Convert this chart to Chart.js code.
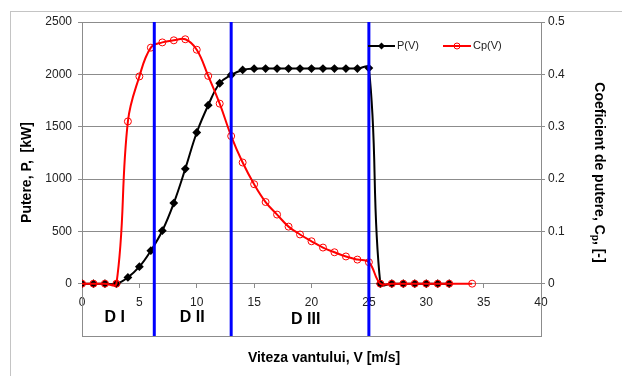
<!DOCTYPE html>
<html>
<head>
<meta charset="utf-8">
<script src="https://cdn.jsdelivr.net/npm/chart.js@4.4.0/dist/chart.umd.min.js"></script>
<style>
  html, body { margin: 0; padding: 0; background: #fff; }
  #chart { display: block; }
</style>
</head>
<body>
<canvas id="chart" width="622" height="376"></canvas>
<script>
// wind speed [m/s] and power P(V) [kW]
const windSpeedP = [0, 1, 2, 3, 4, 5, 6, 7, 8, 9, 10, 11, 12, 13, 14, 15, 16, 17, 18, 19, 20, 21, 22, 23, 24, 25, 26, 27, 28, 29, 30, 31, 32];
const power = [0, 0, 0, 0, 60, 162, 315, 506, 770, 1097, 1444, 1705, 1915, 1994, 2042, 2054, 2055, 2055, 2055, 2055, 2055, 2055, 2055, 2055, 2055, 2060, 0, 0, 0, 0, 0, 0, 0];

// power coefficient Cp(V)
const windSpeedCp = [0, 1, 2, 3, 4, 5, 6, 7, 8, 9, 10, 11, 12, 13, 14, 15, 16, 17, 18, 19, 20, 21, 22, 23, 24, 25, 26, 27, 28, 29, 30, 31, 32, 34];
const cp = [0, 0, 0, 0, 0.310, 0.396, 0.451, 0.461, 0.465, 0.467, 0.447, 0.397, 0.344, 0.282, 0.2315, 0.190, 0.156, 0.132, 0.109, 0.094, 0.081, 0.069, 0.060, 0.052, 0.046, 0.041, 0, 0, 0, 0, 0, 0, 0, 0];

// operating zones
const zoneLimits = [6.3, 13, 25];
const zoneLabels = ["D I", "D II", "D III"];
const zoneLabelX = [2.85, 9.6, 19.5];
const zoneLabelY = [-320, -320, -345];

const FONT = "'Liberation Sans', Arial, sans-serif";
const GRID = "#8c8c8c";
Chart.defaults.font.family = FONT;
Chart.defaults.color = "#222";

const toPoints = (xs, ys) => xs.map((x, i) => ({ x: x, y: ys[i] }));

const datasets = zoneLimits.map(v => ({
  label: "limit",
  data: [{ x: v, y: -500 }, { x: v, y: 2500 }],
  borderColor: "#0000ff",
  borderWidth: 3,
  pointRadius: 0,
  tension: 0,
  yAxisID: "y"
}));

datasets.push({
  label: "Cp(V)",
  data: toPoints(windSpeedCp, cp),
  borderColor: "#ff0000",
  borderWidth: 2,
  pointStyle: "circle",
  pointRadius: 3.5,
  pointBorderWidth: 1,
  pointBorderColor: "#ff0000",
  pointBackgroundColor: "rgba(0,0,0,0)",
  tension: 0.4,
  yAxisID: "y1"
});

datasets.push({
  label: "P(V)",
  data: toPoints(windSpeedP, power),
  borderColor: "#000",
  borderWidth: 2,
  pointStyle: "rectRot",
  pointRadius: 3,
  pointBorderColor: "#000",
  pointBackgroundColor: "#000",
  tension: 0.4,
  yAxisID: "y"
});

function drawLegend(ctx) {
  ctx.save();
  ctx.font = "11px " + FONT;
  ctx.textBaseline = "middle";
  const y = 46;
  // P(V)
  ctx.strokeStyle = "#000";
  ctx.lineWidth = 2;
  ctx.beginPath(); ctx.moveTo(368, y); ctx.lineTo(395, y); ctx.stroke();
  ctx.fillStyle = "#000";
  ctx.beginPath();
  ctx.moveTo(381.5, y - 3.5); ctx.lineTo(385, y); ctx.lineTo(381.5, y + 3.5); ctx.lineTo(378, y);
  ctx.closePath(); ctx.fill();
  ctx.fillStyle = "#222";
  ctx.fillText("P(V)", 397, y);
  // Cp(V)
  ctx.strokeStyle = "#ff0000";
  ctx.lineWidth = 2;
  ctx.beginPath(); ctx.moveTo(443, y); ctx.lineTo(471, y); ctx.stroke();
  ctx.lineWidth = 1;
  ctx.fillStyle = "#fff";
  ctx.beginPath(); ctx.arc(457, y, 3, 0, Math.PI * 2); ctx.stroke();
  ctx.fillStyle = "#222";
  ctx.fillText("Cp(V)", 473, y);
  ctx.restore();
}

const decor = {
  id: "decor",
  beforeDraw(chart) {
    const ctx = chart.ctx;
    ctx.save();
    ctx.strokeStyle = "#c4c4c4";
    ctx.lineWidth = 1;
    ctx.strokeRect(10.5, 11.5, 800, 500);
    ctx.restore();
  },
  afterDraw(chart) {
    const ctx = chart.ctx;
    const xs = chart.scales.x, ys = chart.scales.y;
    ctx.save();
    ctx.fillStyle = "#000";
    ctx.textAlign = "center";
    ctx.textBaseline = "middle";

    ctx.font = "bold 16px " + FONT;
    zoneLabels.forEach((t, i) => {
      ctx.fillText(t, xs.getPixelForValue(zoneLabelX[i]), ys.getPixelForValue(zoneLabelY[i]));
    });

    ctx.font = "bold 14px " + FONT;
    ctx.fillText("Viteza vantului, V [m/s]", 324, 358);

    ctx.save();
    ctx.translate(27, 172.5);
    ctx.rotate(-Math.PI / 2);
    ctx.fillText("Putere, P,  [kW]", 0, 0);
    ctx.restore();

    // right title with subscript p
    ctx.save();
    ctx.translate(599, 172.5);
    ctx.rotate(Math.PI / 2);
    const a = "Coeficient de putere, C", b = ", [-]";
    ctx.font = "bold 14px " + FONT;
    const wa = ctx.measureText(a).width, wb = ctx.measureText(b).width;
    ctx.font = "bold 10px " + FONT;
    const ws = ctx.measureText("p").width;
    const x = -(wa + ws + wb) / 2;
    ctx.textAlign = "left";
    ctx.font = "bold 14px " + FONT;
    ctx.fillText(a, x, 0);
    ctx.font = "bold 10px " + FONT;
    ctx.fillText("p", x + wa, 4);
    ctx.font = "bold 14px " + FONT;
    ctx.fillText(b, x + wa + ws, 0);
    ctx.restore();

    ctx.restore();
    drawLegend(ctx);
  }
};

new Chart(document.getElementById("chart"), {
  type: "line",
  data: { datasets: datasets },
  plugins: [decor],
  options: {
    responsive: false,
    animation: false,
    layout: { padding: { top: 22, bottom: 40, left: 0, right: 0 } },
    plugins: { legend: { display: false }, tooltip: { enabled: false } },
    scales: {
      x: {
        type: "linear",
        position: { y: 0 },
        min: 0,
        max: 40,
        ticks: { stepSize: 5, padding: 8, maxRotation: 0, font: { size: 12 } },
        grid: { drawOnChartArea: false, tickLength: 4, color: GRID },
        border: { color: GRID }
      },
      y: {
        position: "left",
        min: -500,
        max: 2500,
        afterFit: s => { s.width = 82; },
        ticks: { stepSize: 500, padding: 6, font: { size: 12 }, callback: v => v < 0 ? "" : v },
        grid: {
          color: GRID,
          tickLength: 4,
          tickColor: c => (c.tick && c.tick.value < 0 ? "rgba(0,0,0,0)" : GRID)
        },
        border: { color: GRID }
      },
      y1: {
        position: "right",
        min: -0.1,
        max: 0.5,
        afterFit: s => { s.width = 81; },
        ticks: {
          stepSize: 0.1,
          padding: 3,
          font: { size: 12 },
          callback: v => v < -0.05 ? "" : String(Math.round(v * 10) / 10)
        },
        grid: {
          drawOnChartArea: false,
          tickLength: 4,
          tickColor: c => (c.tick && c.tick.value < -0.05 ? "rgba(0,0,0,0)" : GRID)
        },
        border: { color: GRID }
      }
    }
  }
});
</script>
</body>
</html>
